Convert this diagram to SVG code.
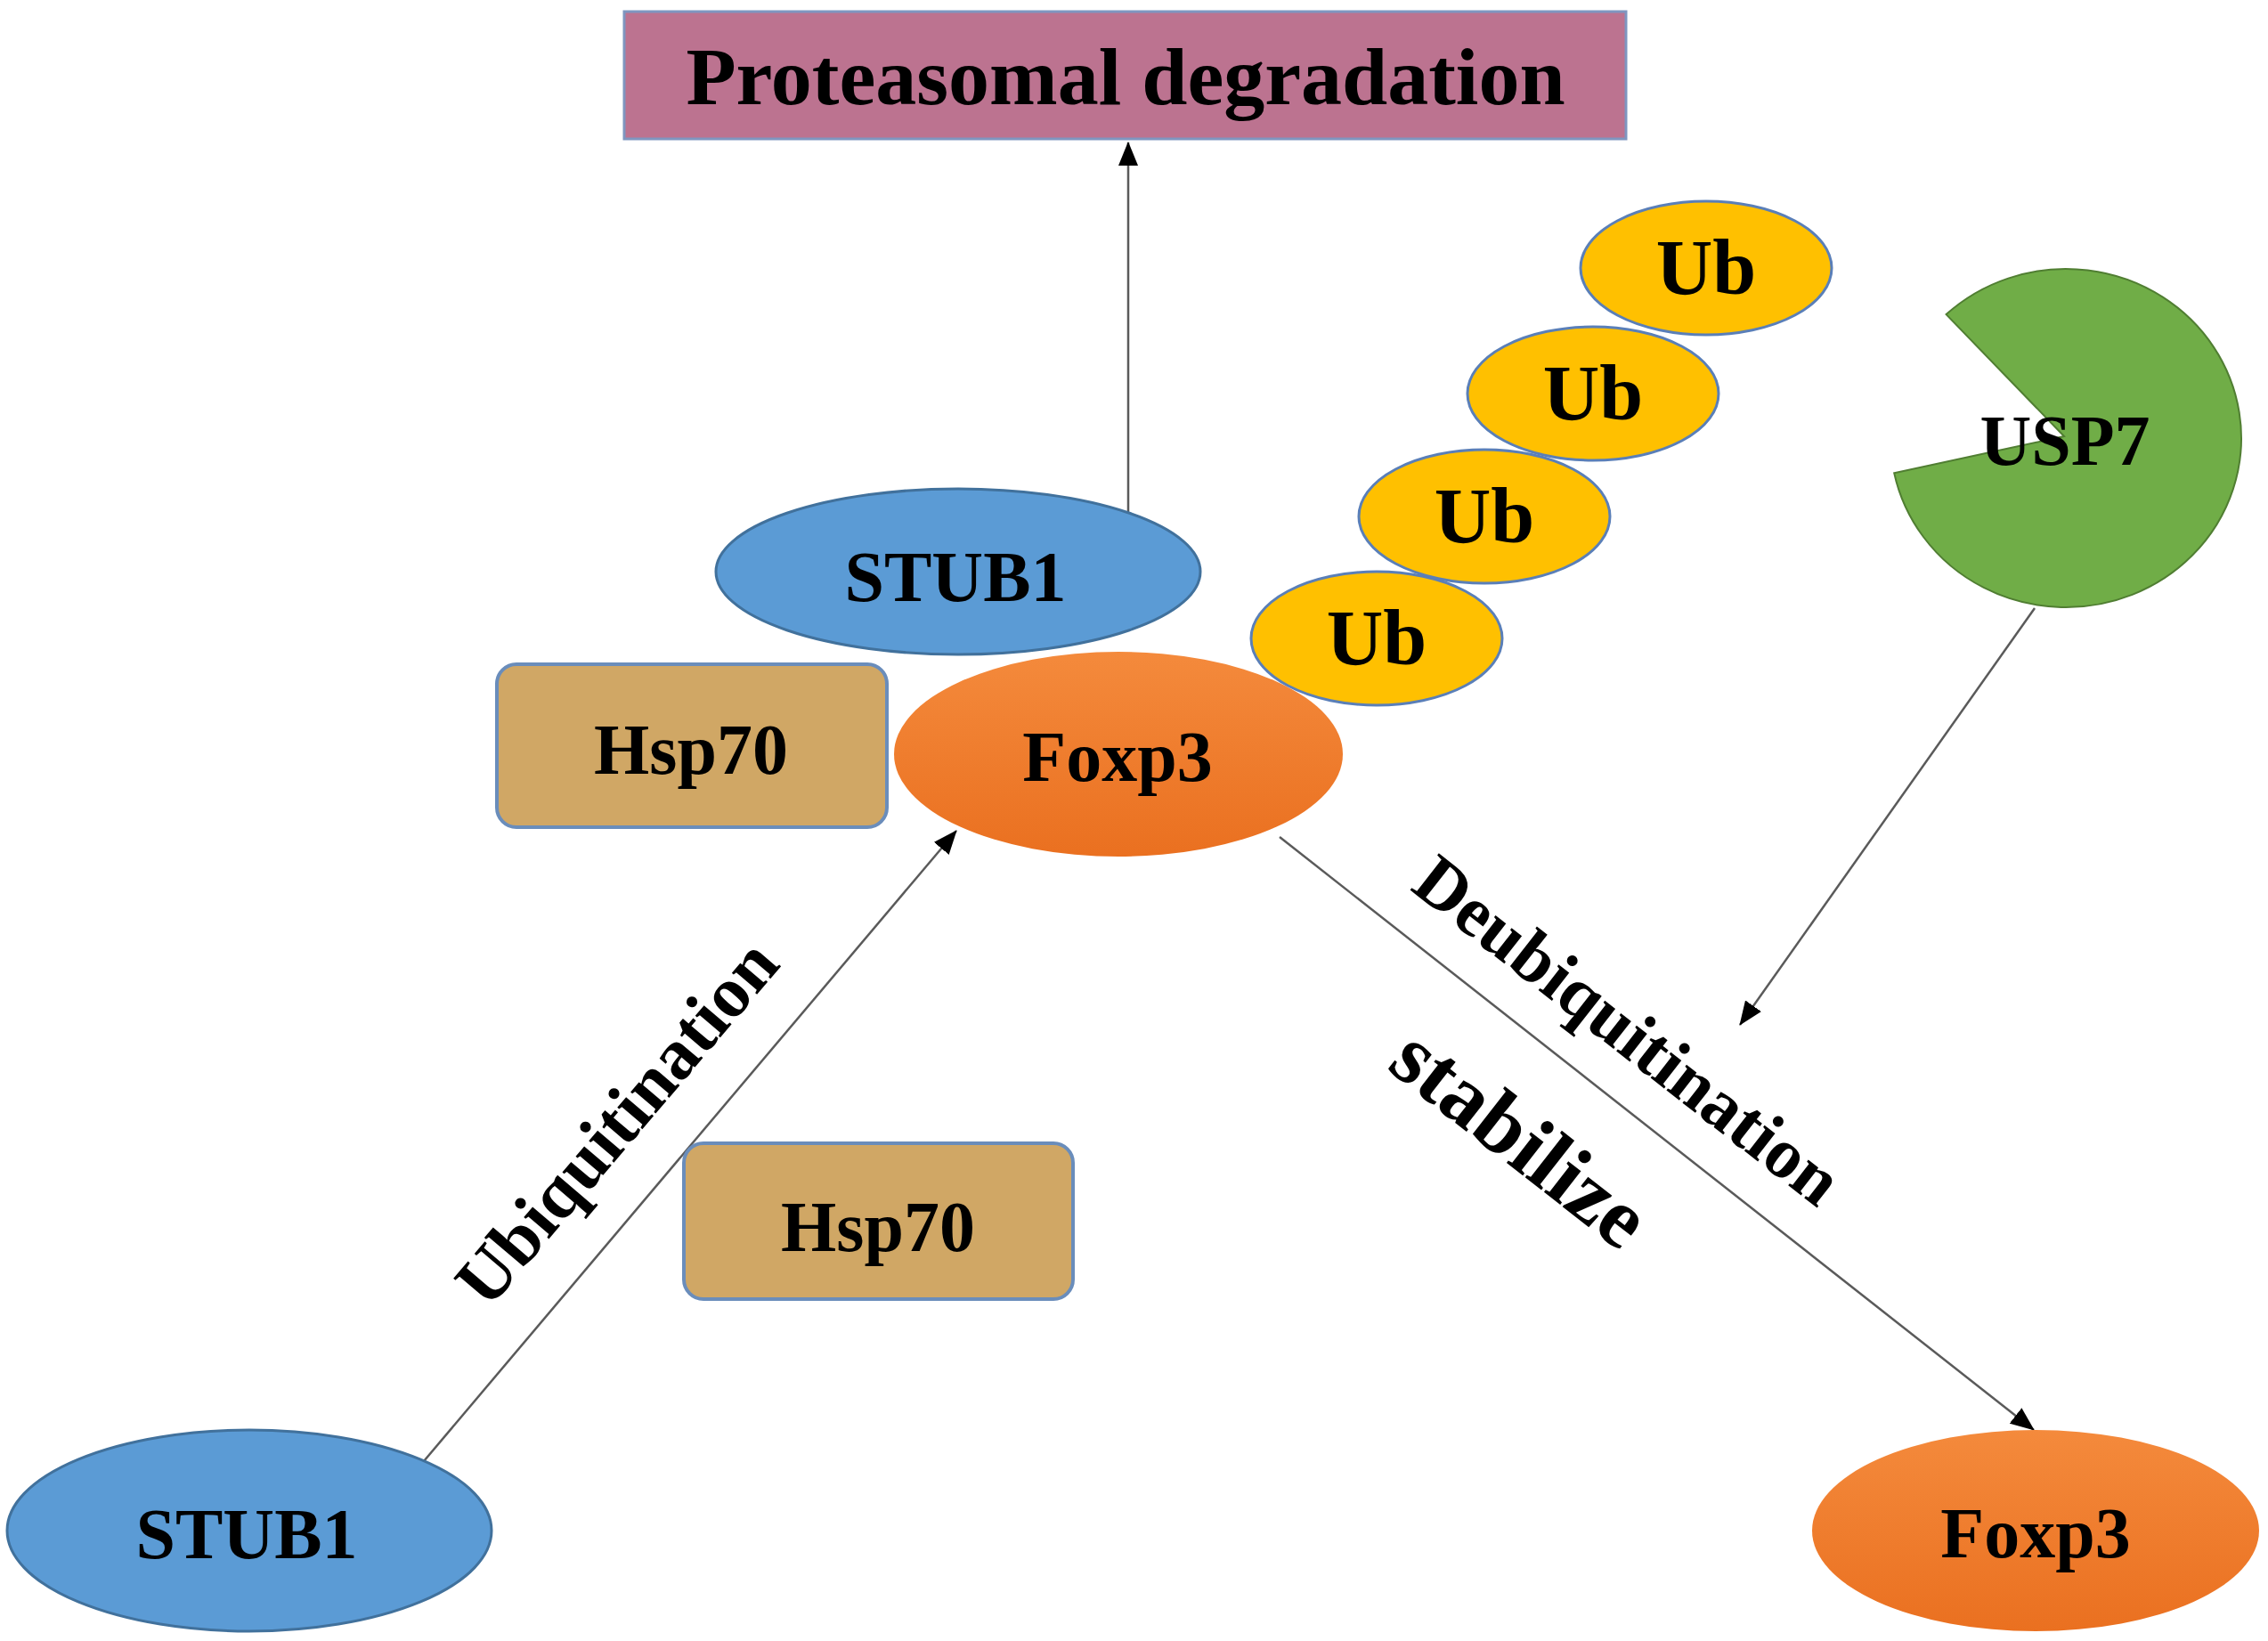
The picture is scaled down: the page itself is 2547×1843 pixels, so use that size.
<svg xmlns="http://www.w3.org/2000/svg" width="2547" height="1843" viewBox="0 0 2547 1843">
<defs>
<style>
.t{font-family:"Liberation Serif","Times New Roman",serif;font-weight:bold;fill:#000;text-anchor:middle}
.blue{fill:#5B9BD5;stroke:#41719C;stroke-width:3}
.orange{fill:url(#og);stroke:none}
.ub{fill:#FFC000;stroke:#5A7FB8;stroke-width:3}
.hsp{fill:#D0A765;stroke:#6A8DBB;stroke-width:4}
.conn{stroke:#5A5A5A;stroke-width:2.5;fill:none;marker-end:url(#ah)}
</style>
<linearGradient id="og" x1="0" y1="0" x2="0" y2="1">
<stop offset="0" stop-color="#F48A3C"/>
<stop offset="1" stop-color="#EA7020"/>
</linearGradient>
<marker id="ah" markerUnits="userSpaceOnUse" markerWidth="28" markerHeight="22" refX="26" refY="11" orient="auto">
<path d="M0,0 L27,11 L0,22 Z" fill="#000"/>
</marker>
</defs>
<rect width="2547" height="1843" fill="#fff"/>

<g id="connectors">
<line class="conn" x1="1267" y1="576" x2="1267" y2="160"/>
<line class="conn" x1="476" y1="1641" x2="1074" y2="933"/>
<line class="conn" x1="1437" y1="940" x2="2284" y2="1606"/>
<line class="conn" x1="2285" y1="683" x2="1954" y2="1151"/>
</g>

<g id="proteasomal">
<rect x="701" y="13" width="1125" height="143" fill="#BC7390" stroke="#7F96C0" stroke-width="3"/>
<text class="t" x="1264" y="117" font-size="92">Proteasomal degradation</text>
</g>

<g id="stub1-top">
<ellipse class="blue" cx="1076" cy="642" rx="272" ry="93"/>
<text class="t" x="1073" y="675" font-size="80">STUB1</text>
</g>

<g id="hsp70-top">
<rect class="hsp" x="558" y="746" width="438" height="183" rx="22"/>
<text class="t" x="776" y="869" font-size="80">Hsp70</text>
</g>

<g id="foxp3-top">
<ellipse class="orange" cx="1256" cy="847" rx="252" ry="115"/>
<text class="t" x="1255" y="877" font-size="80">Foxp3</text>
</g>

<g id="ub1">
<ellipse class="ub" cx="1546" cy="717" rx="141" ry="75"/>
<text class="t" x="1546" y="746" font-size="88">Ub</text>
</g>
<g id="ub2">
<ellipse class="ub" cx="1667" cy="580" rx="141" ry="75"/>
<text class="t" x="1667" y="609" font-size="88">Ub</text>
</g>
<g id="ub3">
<ellipse class="ub" cx="1789" cy="442" rx="141" ry="75"/>
<text class="t" x="1789" y="471" font-size="88">Ub</text>
</g>
<g id="ub4">
<ellipse class="ub" cx="1916" cy="301" rx="141" ry="75"/>
<text class="t" x="1916" y="330" font-size="88">Ub</text>
</g>

<g id="usp7">
<path d="M2318,490 L2127.2,531.2 A197,190 0 1 0 2185.6,353.1 Z" fill="#70AD47" stroke="#507E32" stroke-width="2"/>
<text class="t" x="2319" y="522" font-size="80">USP7</text>
</g>

<g id="hsp70-bottom">
<rect class="hsp" x="768" y="1284" width="437" height="175" rx="22"/>
<text class="t" x="986" y="1405" font-size="80">Hsp70</text>
</g>

<g id="stub1-bottom">
<ellipse class="blue" cx="280" cy="1719" rx="272" ry="113"/>
<text class="t" x="277" y="1750" font-size="80">STUB1</text>
</g>

<g id="foxp3-bottom">
<ellipse class="orange" cx="2286" cy="1719" rx="251" ry="113"/>
<text class="t" x="2286" y="1749" font-size="80">Foxp3</text>
</g>

<g id="labels">
<text class="t" font-size="81" transform="translate(713,1278) rotate(-49.6)">Ubiquitination</text>
<text class="t" font-size="80" transform="translate(1812,1178) rotate(38)">Deubiquitination</text>
<text class="t" font-size="96" transform="translate(1688,1303) rotate(38)">stabilize</text>
</g>
</svg>
